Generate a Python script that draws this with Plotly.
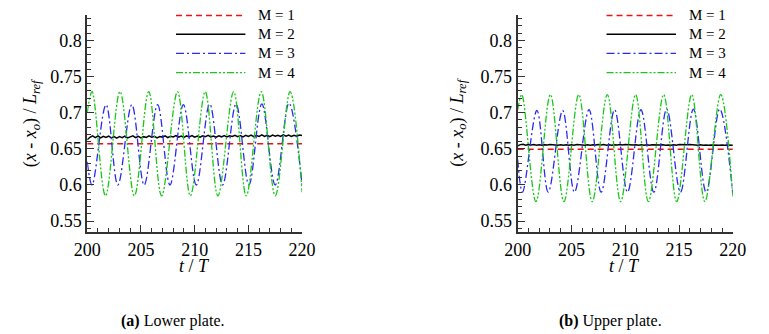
import numpy as np
import plotly.graph_objects as go


# time grid of the M = 2 record (sampled every 0.25 periods)
t_m2 = np.linspace(200, 220, 81)

# M = 1 : flat
t_m1 = [200, 220]
lower_m1 = [0.657, 0.657]
upper_m1 = [0.6495, 0.6495]

# M = 2 : small jitter
lower_m2 = [
    0.6625, 0.6660, 0.6680, 0.6655, 0.6678, 0.6650, 0.6672, 0.6658,
    0.6675, 0.6652, 0.6670, 0.6648, 0.6668, 0.6655, 0.6676, 0.6650,
    0.6665, 0.6680, 0.6655, 0.6672, 0.6650, 0.6668, 0.6658, 0.6678,
    0.6660, 0.6674, 0.6652, 0.6670, 0.6662, 0.6680, 0.6656, 0.6672,
    0.6664, 0.6682, 0.6660, 0.6675, 0.6658, 0.6678, 0.6665, 0.6684,
    0.6662, 0.6676, 0.6660, 0.6680, 0.6668, 0.6686, 0.6664, 0.6678,
    0.6662, 0.6680, 0.6666, 0.6684, 0.6663, 0.6679, 0.6670, 0.6688,
    0.6668, 0.6682, 0.6665, 0.6686, 0.6670, 0.6690, 0.6668, 0.6684,
    0.6672, 0.6692, 0.6670, 0.6686, 0.6668, 0.6690, 0.6674, 0.6688,
    0.6670, 0.6692, 0.6674, 0.6690, 0.6672, 0.6688, 0.6676, 0.6690,
    0.6684,
]
upper_m2 = [
    0.6540, 0.6558, 0.6562, 0.6550, 0.6560, 0.6553, 0.6558, 0.6550,
    0.6556, 0.6549, 0.6557, 0.6552, 0.6560, 0.6554, 0.6558, 0.6551,
    0.6557, 0.6550, 0.6555, 0.6548, 0.6556, 0.6551, 0.6558, 0.6552,
    0.6556, 0.6549, 0.6555, 0.6550, 0.6557, 0.6552, 0.6559, 0.6553,
    0.6558, 0.6551, 0.6556, 0.6550, 0.6557, 0.6553, 0.6560, 0.6554,
    0.6561, 0.6555, 0.6559, 0.6552, 0.6557, 0.6551, 0.6556, 0.6550,
    0.6555, 0.6549, 0.6556, 0.6552, 0.6558, 0.6553, 0.6557, 0.6550,
    0.6554, 0.6549, 0.6556, 0.6551, 0.6558, 0.6554, 0.6560, 0.6555,
    0.6558, 0.6552, 0.6556, 0.6550, 0.6555, 0.6549, 0.6554, 0.6548,
    0.6553, 0.6549, 0.6555, 0.6550, 0.6554, 0.6548, 0.6553, 0.6549,
    0.6550,
]

# M = 3 : read at start, peaks, troughs, end
lower_t_m3 = [200.0, 200.45, 201.75, 202.85, 204.15, 205.3, 206.55, 207.7, 208.95,
              210.15, 211.4, 212.6, 213.85, 215.05, 216.25, 217.5, 218.78, 220.0]
lower_m3 = [0.632, 0.600, 0.711, 0.600, 0.711, 0.600, 0.711, 0.600, 0.711,
            0.600, 0.712, 0.600, 0.712, 0.600, 0.712, 0.600, 0.713, 0.600]
upper_t_m3 = [200.0, 200.45, 201.79, 202.84, 204.18, 205.28, 206.63, 207.76, 209.01,
              210.21, 211.46, 212.66, 213.85, 215.13, 216.33, 217.52, 218.78, 220.0]
upper_m3 = [0.635, 0.590, 0.703, 0.590, 0.703, 0.590, 0.704, 0.590, 0.704,
            0.590, 0.704, 0.590, 0.705, 0.590, 0.705, 0.590, 0.705, 0.588]

# M = 4
lower_t_m4 = [200.0, 200.45, 201.7, 203.05, 204.39, 205.72, 206.92, 208.4, 209.6,
              210.98, 212.16, 213.63, 214.8, 216.2, 217.5, 218.88, 220.0]
lower_m4 = [0.700, 0.729, 0.585, 0.729, 0.585, 0.729, 0.585, 0.729, 0.585,
            0.729, 0.585, 0.729, 0.585, 0.729, 0.585, 0.729, 0.590]
upper_t_m4 = [200.0, 200.38, 201.7, 203.04, 204.3, 205.68, 206.93, 208.33, 209.57,
              210.96, 212.15, 213.57, 214.78, 216.18, 217.4, 218.87, 220.0]
upper_m4 = [0.704, 0.725, 0.577, 0.725, 0.577, 0.725, 0.577, 0.725, 0.577,
            0.725, 0.577, 0.725, 0.577, 0.725, 0.577, 0.725, 0.584]

labels = ["M = 1", "M = 2", "M = 3", "M = 4"]
colors = ["#ee1111", "#000000", "#2a2af2", "#16c916"]
dashes = ["6px,4px", "solid", "8px,3px,2px,3px", "7px,2px,2px,2px,2px,2px"]
widths = [1.5, 1.5, 1.3, 1.3]

SERIF = "Liberation Serif"

panels = [
    dict(x="x", y="y",
         series=[(t_m1, lower_m1), (t_m2, lower_m2), (lower_t_m3, lower_m3), (lower_t_m4, lower_m4)]),
    dict(x="x2", y="y2",
         series=[(t_m1, upper_m1), (t_m2, upper_m2), (upper_t_m3, upper_m3), (upper_t_m4, upper_m4)]),
]

fig = go.Figure()

for p in panels:
    for i, (tt, vv) in enumerate(p["series"]):
        shape = "spline" if i >= 2 else "linear"
        fig.add_trace(go.Scatter(x=tt, y=vv, mode="lines", xaxis=p["x"], yaxis=p["y"],
                                 line=dict(color=colors[i], dash=dashes[i], width=widths[i],
                                           shape=shape, smoothing=1.0),
                                 showlegend=False, hoverinfo="skip"))

# hand-drawn legend, like the original figure
legend_rows = [0.998, 0.911, 0.823, 0.734]
for xr, yr in [("x domain", "y domain"), ("x2 domain", "y2 domain")]:
    for i, lab in enumerate(labels):
        fig.add_shape(type="line", xref=xr, yref=yr, x0=0.413, x1=0.736,
                      y0=legend_rows[i], y1=legend_rows[i],
                      line=dict(color=colors[i], dash=dashes[i], width=widths[i]))
        fig.add_annotation(xref=xr, yref=yr, x=0.787, y=legend_rows[i], text=lab,
                           xanchor="left", yanchor="middle", showarrow=False,
                           font=dict(family=SERIF, size=15, color="black"))

ytitle = "(<i>x</i> - <i>x</i><sub><i>o</i></sub>) / <i>L</i><sub><i>ref</i></sub>"
for xc, xt in [(19, 187.5), (461.5, 634)]:
    fig.add_annotation(xref="paper", yref="paper", x=xc / 769, y=(334 - 123) / 334,
                       text=ytitle, textangle=-90, showarrow=False,
                       xanchor="center", yanchor="middle",
                       font=dict(family=SERIF, size=18, color="black"))
    fig.add_annotation(xref="paper", yref="paper", x=xt / 769, y=(334 - 266) / 334,
                       text="<i>t</i> / <i>T</i>", showarrow=False,
                       xanchor="center", yanchor="middle",
                       font=dict(family=SERIF, size=18, color="black"))

for xc, txt in [(165, "<b>(a)</b> Lower plate."), (619, "<b>(b)</b> Upper plate.")]:
    fig.add_annotation(xref="paper", yref="paper", x=xc / 769, y=(334 - 321) / 334,
                       text=txt, showarrow=False, xanchor="center", yanchor="middle",
                       font=dict(family=SERIF, size=16, color="black"))

xaxis_style = dict(range=[200, 220], dtick=5, tick0=200, ticks="inside", ticklen=7,
                   tickwidth=1, tickcolor="#333", showline=True, linewidth=2,
                   linecolor="#333", showgrid=False, zeroline=False,
                   minor=dict(dtick=1, ticks="inside", ticklen=4, tickcolor="#333", showgrid=False),
                   tickfont=dict(family=SERIF, size=18, color="black"))
yaxis_style = dict(range=[0.535, 0.835], dtick=0.05, tick0=0.55, ticks="inside", ticklen=7,
                   tickwidth=1, tickcolor="#333", showline=True, linewidth=2,
                   linecolor="#333", showgrid=False, zeroline=False,
                   minor=dict(dtick=0.01, ticks="inside", ticklen=4, tickcolor="#333", showgrid=False),
                   tickfont=dict(family=SERIF, size=18, color="black"))

ydom = [(334 - 232) / 334, (334 - 15) / 334]

fig.update_layout(
    width=769, height=334,
    margin=dict(l=0, r=0, t=0, b=0),
    paper_bgcolor="white", plot_bgcolor="white",
    showlegend=False,
    xaxis=dict(domain=[76 / 769, 299 / 769], anchor="y", **xaxis_style),
    yaxis=dict(domain=ydom, anchor="x", **yaxis_style),
    xaxis2=dict(domain=[522.7 / 769, 746 / 769], anchor="y2", **xaxis_style),
    yaxis2=dict(domain=ydom, anchor="x2", **yaxis_style),
)

# the page's default body margin would push the figure 8px right and down
fig.write_html("out.html", config={"displayModeBar": False},
               post_script="document.body.style.margin = '0';")
